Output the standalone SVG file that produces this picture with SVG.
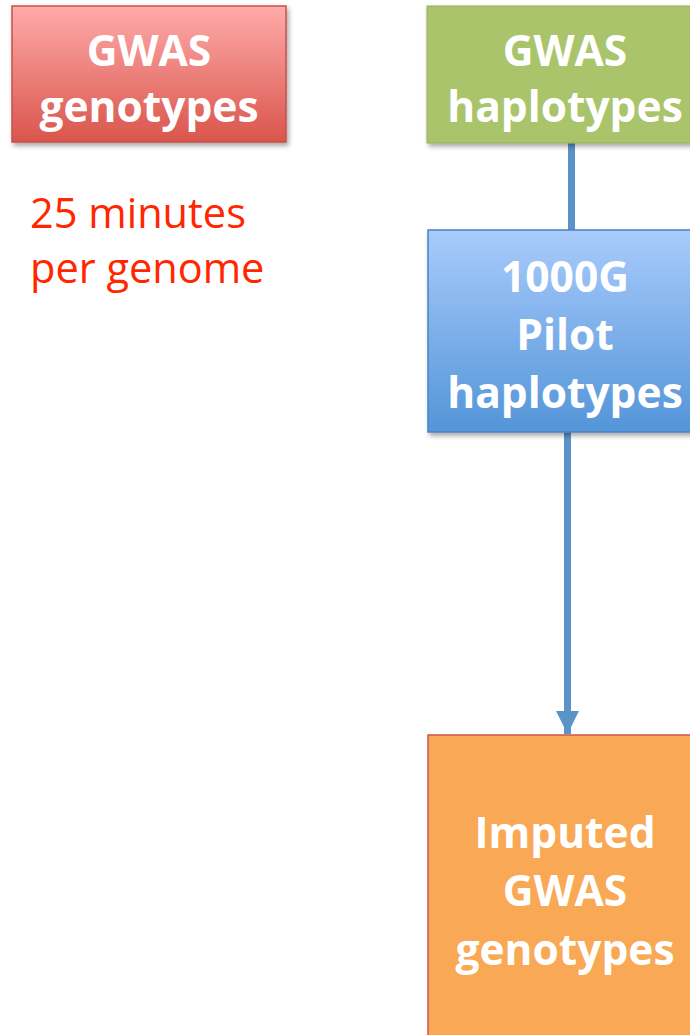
<svg xmlns="http://www.w3.org/2000/svg" width="690" height="1035" viewBox="0 0 690 1035">
<style>
.t{font-family:"Open Sans","Liberation Sans",sans-serif;font-weight:bold;font-size:42.5px;fill:#fff;text-anchor:middle}
.n{font-family:"Open Sans","Liberation Sans",sans-serif;font-size:41.5px;fill:#ff2600}
</style>
<defs>
<linearGradient id="gr" x1="0" y1="0" x2="0" y2="1"><stop offset="0" stop-color="#ffabaa"/><stop offset="1" stop-color="#d9554c"/></linearGradient>
<linearGradient id="gb" x1="0" y1="0" x2="0" y2="1"><stop offset="0" stop-color="#a9cbfc"/><stop offset="1" stop-color="#5395d8"/></linearGradient>
<filter id="sh" x="-10%" y="-10%" width="130%" height="130%"><feDropShadow dx="2" dy="3" stdDeviation="2.5" flood-color="#000" flood-opacity="0.35"/></filter>
<marker id="ah" viewBox="0 0 10 10" refX="10" refY="5" markerWidth="3.3" markerHeight="3.4" markerUnits="strokeWidth" orient="auto"><path d="M0,0L10,5L0,10z" fill="#5b93c8"/></marker>
</defs>
<g id="connectors">
<line x1="571.5" y1="143" x2="571.5" y2="230" stroke="#5b93c8" stroke-width="7"/>
<line x1="567.5" y1="432" x2="567.5" y2="734" stroke="#5b93c8" stroke-width="7" marker-end="url(#ah)"/>
</g>
<g id="gwas-genotypes">
<rect x="12" y="6" width="274" height="136" fill="url(#gr)" stroke="#c9504a" stroke-width="1.5" filter="url(#sh)"/>
<text class="t" x="149" y="66">GWAS</text>
<text class="t" x="149" y="122">genotypes</text>
</g>
<g id="note">
<text class="n" x="30" y="228">25 minutes</text>
<text class="n" x="30" y="283">per genome</text>
</g>
<g id="gwas-haplotypes">
<rect x="427" y="6" width="276" height="137" fill="#a9c46b" stroke="#93ad58" stroke-width="1" filter="url(#sh)"/>
<text class="t" x="565" y="66">GWAS</text>
<text class="t" x="565" y="122">haplotypes</text>
</g>
<g id="pilot-haplotypes">
<rect x="428" y="230" width="276" height="202" fill="url(#gb)" stroke="#4a84c4" stroke-width="1.5" filter="url(#sh)"/>
<text class="t" x="565" y="292">1000G</text>
<text class="t" x="565" y="350">Pilot</text>
<text class="t" x="565" y="408">haplotypes</text>
</g>
<g id="imputed">
<rect x="428" y="735" width="276" height="310" fill="#f9a856" stroke="#c8564c" stroke-width="1.5"/>
<text class="t" x="565" y="848">Imputed</text>
<text class="t" x="565" y="906">GWAS</text>
<text class="t" x="565" y="965">genotypes</text>
</g>
</svg>
